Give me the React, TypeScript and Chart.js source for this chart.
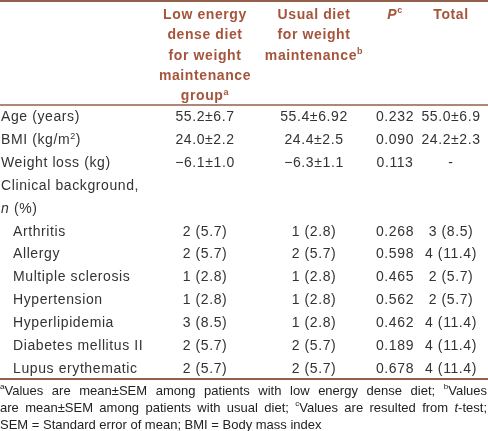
import React, { useEffect, useRef } from "react";
import { Chart, registerables } from "chart.js";

Chart.register(...registerables);

// ---------- data ----------
const rowLabels = [
  "Age (years)",
  "BMI (kg/m{2})",
  "Weight loss (kg)",
  "Clinical background,",
  "_n_ (%)",
  "Arthritis",
  "Allergy",
  "Multiple sclerosis",
  "Hypertension",
  "Hyperlipidemia",
  "Diabetes mellitus II",
  "Lupus erythematic",
];
const rowIndented = [false, false, false, false, false, true, true, true, true, true, true, true];

const lowEnergyGroup = ["55.2±6.7", "24.0±2.2", "−6.1±1.0", "", "", "2 (5.7)", "2 (5.7)", "1 (2.8)", "1 (2.8)", "3 (8.5)", "2 (5.7)", "2 (5.7)"];
const usualDietGroup = ["55.4±6.92", "24.4±2.5", "−6.3±1.1", "", "", "1 (2.8)", "2 (5.7)", "1 (2.8)", "1 (2.8)", "1 (2.8)", "2 (5.7)", "2 (5.7)"];
const pValues = ["0.232", "0.090", "0.113", "", "", "0.268", "0.598", "0.465", "0.562", "0.462", "0.189", "0.678"];
const totals = ["55.0±6.9", "24.2±2.3", "-", "", "", "3 (8.5)", "4 (11.4)", "2 (5.7)", "2 (5.7)", "4 (11.4)", "4 (11.4)", "4 (11.4)"];

const columnHeaders = [
  ["Low energy", "dense diet", "for weight", "maintenance", "group{a}"],
  ["Usual diet", "for weight", "maintenance{b}"],
  ["_P_{c}"],
  ["Total"],
];

const footnotes = [
  "{a}Values are mean±SEM among patients with low energy dense diet; {b}Values",
  "are mean±SEM among patients with usual diet; {c}Values are resulted from _t_-test;",
  "SEM = Standard error of mean; BMI = Body mass index",
];
const footnoteJustified = [true, true, false];

// ---------- layout / style ----------
const W = 488;
const H = 431;
const colCenters = [205, 314, 395, 451];
const HEADER_BOTTOM = 105;
const TABLE_BOTTOM = 379;
const FAMILY = '"Liberation Sans", Arial, sans-serif';
const BROWN = "#a4553b";
const RULE = "#93604a";
const TEXT = "#333333";
const FOOT = "#222222";

type Seg = { t: string; sup?: boolean; it?: boolean };

function parseRich(s: string): Seg[] {
  const out: Seg[] = [];
  let it = false;
  let buf = "";
  const flush = () => {
    if (buf) {
      out.push({ t: buf, it });
      buf = "";
    }
  };
  for (let i = 0; i < s.length; i++) {
    const c = s[i];
    if (c === "_") {
      flush();
      it = !it;
    } else if (c === "{") {
      flush();
      const j = s.indexOf("}", i);
      out.push({ t: s.slice(i + 1, j), sup: true, it });
      i = j;
    } else buf += c;
  }
  flush();
  return out;
}

type TextOpt = { size: number; bold?: boolean; color: string; spacing: number; justifyTo?: number };

function drawRich(ctx: CanvasRenderingContext2D, text: string, x: number, y: number, align: string, opt: TextOpt) {
  const segs = parseRich(text);
  const fontFor = (s: Seg) =>
    `${s.it ? "italic " : ""}${opt.bold ? "bold " : ""}${s.sup ? Math.round(opt.size * 0.62) : opt.size}px ${FAMILY}`;
  (ctx as any).letterSpacing = `${opt.spacing}px`;
  let total = 0;
  let spaces = 0;
  const widths = segs.map((s) => {
    ctx.font = fontFor(s);
    const w = ctx.measureText(s.t).width;
    total += w;
    if (!s.sup) spaces += (s.t.match(/ /g) || []).length;
    return w;
  });
  const extra = opt.justifyTo && spaces > 0 ? Math.max(0, (opt.justifyTo - x - total) / spaces) : 0;
  let cx = align === "center" ? x - total / 2 : align === "right" ? x - total : x;
  ctx.textAlign = "left";
  ctx.textBaseline = "alphabetic";
  ctx.fillStyle = opt.color;
  const base = y + opt.size * 0.36;
  segs.forEach((s, i) => {
    ctx.font = fontFor(s);
    const yy = s.sup ? base - opt.size * 0.4 : base;
    if (extra > 0 && !s.sup) {
      const parts = s.t.split(" ");
      const sw = ctx.measureText(" ").width;
      parts.forEach((p, k) => {
        if (p) {
          ctx.fillText(p, cx, yy);
          cx += ctx.measureText(p).width;
        }
        if (k < parts.length - 1) cx += sw + extra;
      });
    } else {
      ctx.fillText(s.t, cx, yy);
      cx += widths[i];
    }
  });
  (ctx as any).letterSpacing = "0px";
}

const columns = [lowEnergyGroup, usualDietGroup, pValues, totals];

const tablePlugin = {
  id: "tableText",
  afterDatasetsDraw(chart: any) {
    const ctx: CanvasRenderingContext2D = chart.ctx;
    const area = chart.chartArea;
    const yScale = chart.scales.y;
    ctx.save();

    // rules
    ctx.strokeStyle = RULE;
    ctx.lineWidth = 2;
    ctx.beginPath();
    ctx.moveTo(0, 1);
    ctx.lineTo(W, 1);
    ctx.stroke();
    ctx.lineWidth = 1.5;
    ctx.beginPath();
    ctx.moveTo(0, area.top);
    ctx.lineTo(W, area.top);
    ctx.stroke();
    ctx.lineWidth = 2;
    ctx.beginPath();
    ctx.moveTo(0, area.bottom);
    ctx.lineTo(W, area.bottom);
    ctx.stroke();

    // header
    columnHeaders.forEach((lines, ci) => {
      lines.forEach((ln, li) => {
        drawRich(ctx, ln, colCenters[ci], 14 + li * 20.3, "center", { size: 14, bold: true, color: BROWN, spacing: 0.6 });
      });
    });

    // row labels
    rowLabels.forEach((lab, ri) => {
      const y = yScale.getPixelForValue(ri);
      drawRich(ctx, lab, rowIndented[ri] ? 13 : 1, y, "left", { size: 14, color: TEXT, spacing: 0.6 });
    });

    // cells
    columns.forEach((col, ci) => {
      const meta = chart.getDatasetMeta(ci);
      meta.data.forEach((el: any, ri: number) => {
        const txt = col[ri];
        if (!txt) return;
        drawRich(ctx, txt, el.x, el.y, "center", { size: 14, color: TEXT, spacing: 0.6 });
      });
    });

    // footnotes
    footnotes.forEach((ln, i) => {
      drawRich(ctx, ln, 0, area.bottom + 11 + i * 17, "left", {
        size: 13,
        color: FOOT,
        spacing: 0,
        justifyTo: footnoteJustified[i] ? W - 1 : undefined,
      });
    });

    ctx.restore();
  },
};

export default function App() {
  const ref = useRef<HTMLCanvasElement | null>(null);
  useEffect(() => {
    if (!ref.current) return;
    const chart = new Chart(ref.current, {
      type: "scatter",
      data: {
        labels: rowLabels,
        datasets: columns.map((col, ci) => ({
          label: `col${ci}`,
          data: col.map((_, ri) => ({ x: colCenters[ci], y: rowLabels[ri] })) as any,
          pointRadius: 0,
          pointHoverRadius: 0,
        })),
      },
      options: {
        animation: false,
        responsive: false,
        events: [],
        layout: { padding: { top: HEADER_BOTTOM, bottom: H - TABLE_BOTTOM, left: 0, right: 0 } },
        plugins: { legend: { display: false }, tooltip: { enabled: false } },
        scales: {
          x: { type: "linear", min: 0, max: W, display: false },
          y: { type: "category", labels: rowLabels, offset: true, display: false },
        },
      },
      plugins: [tablePlugin],
    });
    return () => chart.destroy();
  }, []);
  return (
    <div style={{ position: "absolute", left: 0, top: 0, width: W, height: H, background: "#fff" }}>
      <canvas ref={ref} width={W} height={H} style={{ display: "block" }} />
    </div>
  );
}
